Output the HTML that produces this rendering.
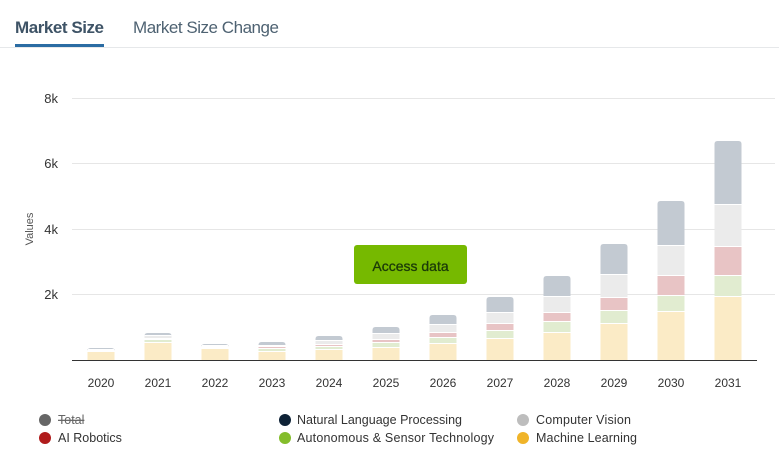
<!DOCTYPE html>
<html><head><meta charset="utf-8"><style>
body{margin:0;width:779px;height:469px;background:#fff;overflow:hidden;font-family:"Liberation Sans",sans-serif}
</style></head><body>
<svg width="779" height="469" xmlns="http://www.w3.org/2000/svg" font-family="Liberation Sans, sans-serif">
<text x="15" y="33" font-size="17" font-weight="bold" fill="#3e5366" textLength="89">Market Size</text>
<text x="133" y="33" font-size="17" fill="#4e6272" textLength="146">Market Size Change</text>
<rect x="15" y="44" width="89" height="3" fill="#2b6ca3"/>
<rect x="0" y="47" width="779" height="1" fill="#e6e8ea"/>
<g stroke="#e6e6e6" stroke-width="1">
<line x1="72" y1="98.5" x2="775" y2="98.5"/><line x1="72" y1="163.5" x2="775" y2="163.5"/>
<line x1="72" y1="229.5" x2="775" y2="229.5"/><line x1="72" y1="294.5" x2="775" y2="294.5"/>
</g>
<g font-size="13" fill="#333" text-anchor="end">
<text x="58" y="103">8k</text><text x="58" y="168">6k</text><text x="58" y="234">4k</text><text x="58" y="299">2k</text>
</g>
<text transform="translate(33,229) rotate(-90)" font-size="11" fill="#555" text-anchor="middle">Values</text>
<g id="bars"></g>
<line x1="72" y1="360.5" x2="757" y2="360.5" stroke="#333" stroke-width="1"/>
<g font-size="12" fill="#333" text-anchor="middle">
<text x="101" y="387">2020</text><text x="158" y="387">2021</text><text x="215" y="387">2022</text><text x="272" y="387">2023</text><text x="329" y="387">2024</text><text x="386" y="387">2025</text><text x="443" y="387">2026</text><text x="500" y="387">2027</text><text x="557" y="387">2028</text><text x="614" y="387">2029</text><text x="671" y="387">2030</text><text x="728" y="387">2031</text>
</g>
<rect x="354" y="245" width="113" height="39" rx="3" fill="#76b900"/>
<text x="410.5" y="271" font-size="14" fill="#1b3a08" text-anchor="middle" font-weight="500" stroke="#1b3a08" stroke-width="0.3">Access data</text>
<g font-size="12.5" fill="#333">
<circle cx="45" cy="420" r="6" fill="#666"/><text x="58" y="424" fill="#666" text-decoration="line-through">Total</text>
<circle cx="45" cy="438" r="6" fill="#b01c1c"/><text x="58" y="442">AI Robotics</text>
<circle cx="285" cy="420" r="6" fill="#0e2236"/><text x="297" y="424" textLength="165">Natural Language Processing</text>
<circle cx="285" cy="438" r="6" fill="#84bd2c"/><text x="297" y="442" textLength="197">Autonomous &amp; Sensor Technology</text>
<circle cx="523" cy="420" r="6" fill="#bdbdbd"/><text x="536" y="424" textLength="95">Computer Vision</text>
<circle cx="523" cy="438" r="6" fill="#f0b429"/><text x="536" y="442" textLength="101">Machine Learning</text>
</g>
</svg>
<script>
var d=[[101,348,350,351,351,352],[158,333,336,339,340,343],[215,344,346,347,348,349],[272,342,346,347,349,352],[329,336,341,345,347,350],[386,327,334,340,343,348],[443,315,325,333,338,344],[500,297,313,324,331,339],[557,276,297,313,322,333],[614,244,275,298,311,324],[671,201,246,276,296,312],[728,141,205,247,276,297]];
var c=["#c3cad2","#ebebeb","#e8c4c5","#e1ecd0","#fbebc6"];
var s="";
d.forEach(function(b){var x=b[0]-13.5;for(var i=0;i<5;i++){var y1=b[i+1],y2=i<4?b[i+2]:360;var h=y2-y1-(i<4?1:0);if(h<=0)continue;
if(i==0)s+='<path d="M'+x+' '+(y2-1)+'V'+(y1+3)+'q0 -3 3 -3h21q3 0 3 3V'+(y2-1)+'z" fill="'+c[0]+'"/>';
else s+='<rect x="'+x+'" y="'+y1+'" width="27" height="'+h+'" fill="'+c[i]+'"/>';}});
document.getElementById("bars").innerHTML=s;
</script>
</body></html>
